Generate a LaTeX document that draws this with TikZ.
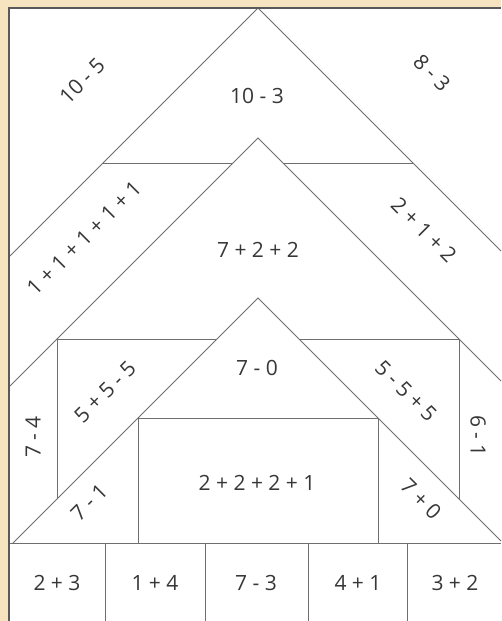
\documentclass[tikz,border=0pt]{standalone}
\usepackage{fontspec}
\setmainfont{Open Sans}
\usepackage{tikz}
\definecolor{paper}{RGB}{246,228,192}
\definecolor{edge}{RGB}{110,110,110}
\definecolor{ink}{RGB}{55,55,55}
\tikzstyle{part} = [draw=edge, line width=1pt, line join=miter]
\tikzstyle{frame} = [draw=black!65, line width=1.6pt]
\tikzstyle{sum} = [text=ink, font=\fontsize{21}{24}\selectfont, inner sep=1pt]

\begin{document}
\begin{tikzpicture}[x=1pt, y=-1pt]
        \useasboundingbox (0,0) rectangle (501,621);
        \fill[paper] (0,0) rectangle (501,621);
        \fill[white] (9,8) rectangle (501,621);

        % apexes of the three roofs
        \coordinate (topA) at (258,8);
        \coordinate (topB) at (258,138);
        \coordinate (topC) at (258,298);

        \path[part] (10,256) -- (topA) -- (501,251);
        \path[part] (10,386) -- (topB) -- (501,381);
        \path[part] (13,543) -- (topC) -- (501,541);
        \path[part] (103,163) -- (233,163);
        \path[part] (283,163) -- (413,163);
        \path[part] (57,499) -- (57,339) -- (217,339);
        \path[part] (459,499) -- (459,339) -- (299,339);
        \path[part] (138,543) -- (138,418) -- (378,418) -- (378,543);
        \path[part] (9,543) -- (501,543);
        \foreach \x in {105,205,308,407}
          \path[part] (\x,543) -- (\x,621);
        \path[frame] (9,621) -- (9,8) -- (501,8);

        % roof labels
        \node[sum, rotate=45]  (tenfive)  at (82,81)   {10 - 5};
        \node[sum]             (tenthree) at (257,96)  {10 - 3};
        \node[sum, rotate=-45] (eightthr) at (432,73)  {8 - 3};
        \node[sum, rotate=45]  (ones)     at (84,238)  {1 + 1 + 1 + 1 + 1};
        \node[sum]             (seventwo) at (258,250) {7 + 2 + 2};
        \node[sum, rotate=-45] (twoone)   at (424,230) {2 + 1 + 2};
        \node[sum, rotate=90]  (sevenfour) at (33,437) {7 - 4};
        \node[sum, rotate=45]  (fives)    at (105,392) {5 + 5 - 5};
        \node[sum]             (sevenzero) at (257,368) {7 - 0};
        \node[sum, rotate=-45] (fivesb)   at (406,391) {5 - 5 + 5};
        \node[sum, rotate=-90] (sixone)   at (478,436) {6 - 1};
        \node[sum, rotate=45]  (sevenone) at (89,502)  {7 - 1};
        \node[sum]             (twos)     at (257,483) {2 + 2 + 2 + 1};
        \node[sum, rotate=-45] (seventim) at (421,499) {7 + 0};

        % bottom row
        \node[sum] (cellA) at (57,583)  {2 + 3};
        \node[sum] (cellB) at (155,583) {1 + 4};
        \node[sum] (cellC) at (256,583) {7 - 3};
        \node[sum] (cellD) at (358,583) {4 + 1};
        \node[sum] (cellE) at (455,583) {3 + 2};
      \end{tikzpicture}
\end{document}
